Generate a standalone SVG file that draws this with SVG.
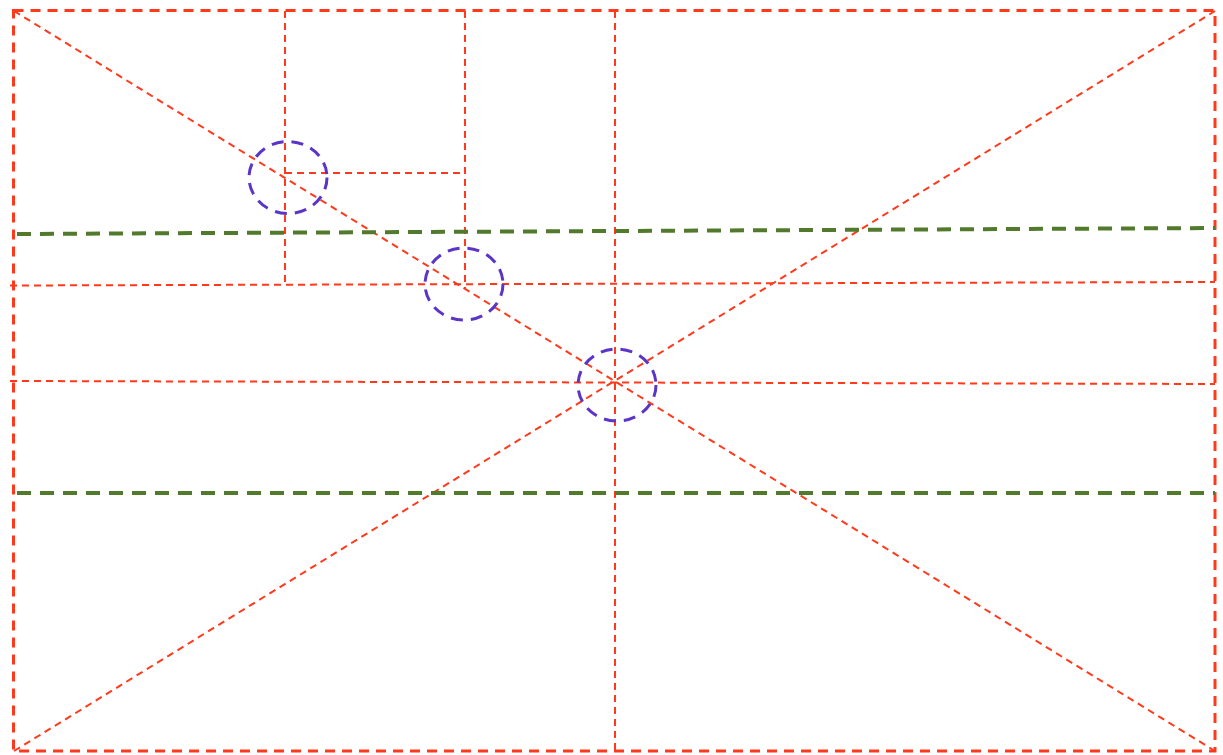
<svg xmlns="http://www.w3.org/2000/svg" width="1223" height="755" viewBox="0 0 1223 755">
<style>
.b{fill:none;stroke:#ff3a1c;stroke-width:3;stroke-dasharray:10 7}
.r{fill:none;stroke:#ff3a1c;stroke-width:2;stroke-dasharray:7 5}
.g{fill:none;stroke:#527a2c;stroke-width:4;stroke-dasharray:14 9}
.c{fill:none;stroke:#5b35c6;stroke-width:3;stroke-dasharray:12 8}
</style>
<rect width="1223" height="755" fill="#fff"/>
<g id="connectors">
<rect class="b" x="13.5" y="10.5" width="1201.5" height="740.5"/>
<line class="r" x1="14" y1="11" x2="1215" y2="751"/>
<line class="r" x1="14" y1="751" x2="1215" y2="11"/>
<line class="r" x1="615" y1="11" x2="615" y2="751"/>
<line class="r" x1="285" y1="11" x2="285" y2="285"/>
<line class="r" x1="465" y1="11" x2="465" y2="288"/>
<line class="r" x1="285" y1="173" x2="464" y2="173"/>
<line class="r" x1="10" y1="285.5" x2="1215" y2="282"/>
<line class="r" x1="10" y1="381" x2="1215" y2="384"/>
<line class="g" x1="17" y1="234" x2="1215" y2="228"/>
<line class="g" x1="17" y1="493" x2="1215" y2="493"/>
</g>
<g id="circle1"><ellipse class="c" cx="288" cy="177.5" rx="39" ry="36"/></g>
<g id="circle2"><ellipse class="c" cx="464" cy="284" rx="39" ry="36"/></g>
<g id="circle3"><ellipse class="c" cx="617" cy="385" rx="39" ry="36"/></g>
</svg>
